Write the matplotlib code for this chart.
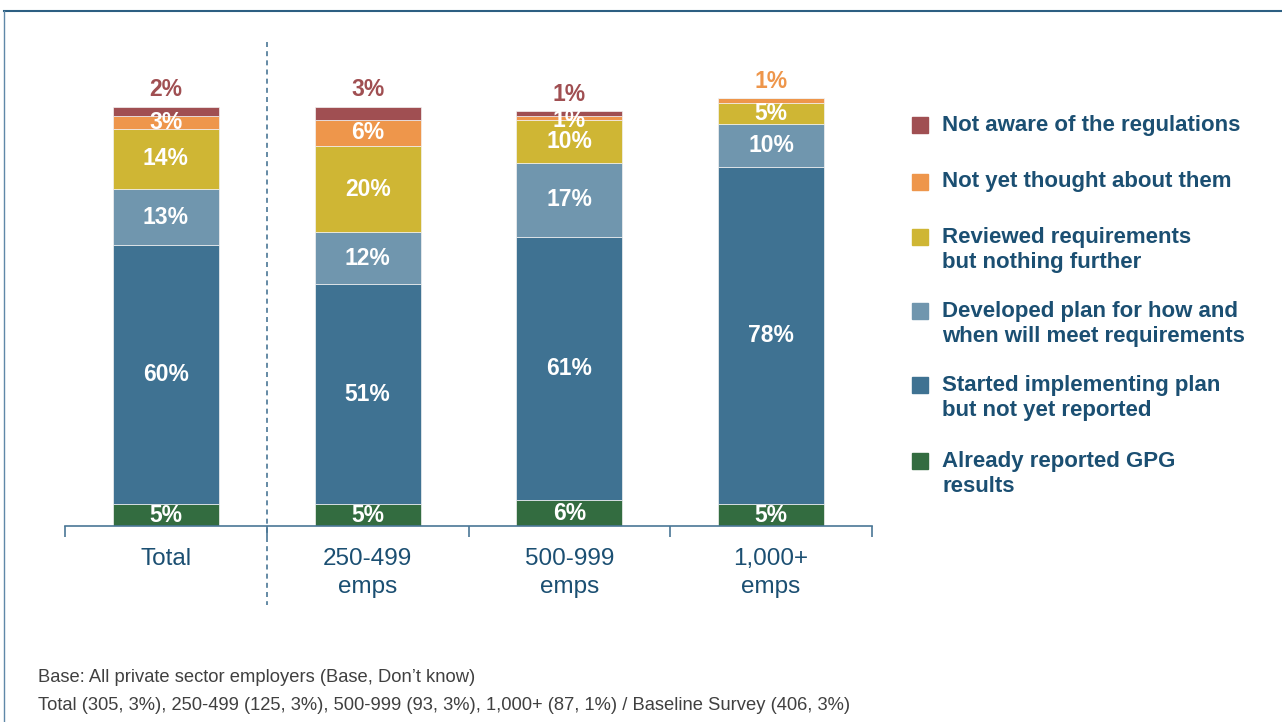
import matplotlib
matplotlib.use("Agg")
import matplotlib.pyplot as plt
from matplotlib.patches import Rectangle
from matplotlib.lines import Line2D
import numpy as np

categories = ["Total", "250-499\nemps", "500-999\nemps", "1,000+\nemps"]

series_names = [
    "Already reported GPG\nresults",
    "Started implementing plan\nbut not yet reported",
    "Developed plan for how and\nwhen will meet requirements",
    "Reviewed requirements\nbut nothing further",
    "Not yet thought about them",
    "Not aware of the regulations",
]
already_reported = [5, 5, 6, 5]
started_implementing = [60, 51, 61, 78]
developed_plan = [13, 12, 17, 10]
reviewed_requirements = [14, 20, 10, 5]
not_yet_thought = [3, 6, 1, 1]
not_aware = [2, 3, 1, 0]

series_values = [already_reported, started_implementing, developed_plan,
                 reviewed_requirements, not_yet_thought, not_aware]
colors = ["#336c40", "#3f7292", "#7096ae", "#cfb634", "#ee964b", "#a04f52"]

footnote_lines = [
    "Base: All private sector employers (Base, Don\u2019t know)",
    "Total (305, 3%), 250-499 (125, 3%), 500-999 (93, 3%), 1,000+ (87, 1%) / Baseline Survey (406, 3%)",
]

text_blue = "#1b4f72"
axis_blue = "#4a7796"
sans = ["Liberation Sans", "DejaVu Sans"]

fig = plt.figure(figsize=(12.82, 7.22), dpi=100)
ax = fig.add_axes([65 / 1282, 1 - 526 / 722, 807 / 1282, 432 / 722])

x = np.arange(len(categories))
bottom = np.zeros(len(categories))
width = 0.525
for vals, col in zip(series_values, colors):
    vals = np.array(vals, dtype=float)
    ax.bar(x, vals, width, bottom=bottom, color=col, edgecolor="#f2f2f2",
           linewidth=0.5)
    bottom += vals
totals = bottom.copy()

# labels inside segments; the uppermost small segment is labelled above the bar
bottom = np.zeros(len(categories))
for si, vals in enumerate(series_values):
    for i, v in enumerate(vals):
        if v <= 0:
            continue
        is_top = all(series_values[k][i] == 0
                     for k in range(si + 1, len(series_values)))
        if is_top and si >= 4:
            ax.text(x[i], totals[i] + 1.3, f"{v}%", ha="center", va="bottom",
                    color=colors[si], fontsize=16.5, fontweight="bold",
                    family=sans)
        else:
            yc = bottom[i] + v / 2
            if v <= 1:
                yc -= 0.6
            ax.text(x[i], yc, f"{v}%", ha="center", va="center",
                    color="white", fontsize=16.5, fontweight="bold", family=sans)
    bottom += np.array(vals, dtype=float)

ax.set_xlim(-0.5, len(categories) - 0.5)
ax.set_ylim(0, 100)
for s in ["top", "right", "left"]:
    ax.spines[s].set_visible(False)
ax.spines["bottom"].set_color(axis_blue)
ax.spines["bottom"].set_linewidth(1.2)
ax.set_yticks([])
ax.set_xticks(np.arange(-0.5, len(categories), 1.0))
ax.set_xticklabels([])
ax.tick_params(axis="x", direction="out", length=8, width=1.2, color=axis_blue)
for i, c in enumerate(categories):
    ax.text(x[i], -5.2, c, ha="center", va="top", color=text_blue,
            fontsize=17.5, family=sans, linespacing=1.3)

# dashed separator between the total and the size bands
fig.add_artist(Line2D([267 / 1282, 267 / 1282], [1 - 42 / 722, 1 - 605 / 722],
                      color=axis_blue, linewidth=1.2, linestyle=(0, (3, 2.5))))

# legend
legend_y = [125, 182, 250, 324, 398, 474]
order = [5, 4, 3, 2, 1, 0]
line_h = 26
for y, si in zip(legend_y, order):
    name = series_names[si]
    nlines = name.count("\n") + 1
    top_y = y - (nlines - 1) * line_h / 2
    fig.add_artist(Rectangle((912 / 1282, 1 - (top_y + 8) / 722), 16 / 1282,
                             16 / 722, color=colors[si], transform=fig.transFigure))
    fig.text(942 / 1282, 1 - y / 722, name, ha="left", va="center",
             color=text_blue, fontsize=16, fontweight="bold", family=sans,
             linespacing=1.27)

# footnote
fig.text(38 / 1282, 1 - 678 / 722, footnote_lines[0], ha="left", va="center",
         color="#404040", fontsize=13.2, family=sans)
fig.text(38 / 1282, 1 - 705 / 722, footnote_lines[1], ha="left", va="center",
         color="#404040", fontsize=13.2, family=sans)

# frame
fig.add_artist(Line2D([4 / 1282, 1], [1 - 11 / 722, 1 - 11 / 722],
                      color="#2d5f82", linewidth=1.5))
fig.add_artist(Line2D([4 / 1282, 4 / 1282], [1 - 11 / 722, 0],
                      color="#5f88a8", linewidth=1.0))

fig.savefig("out.png", dpi=100)
